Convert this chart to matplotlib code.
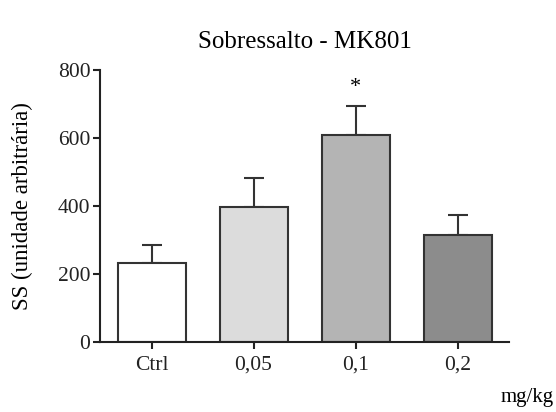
import matplotlib
matplotlib.use("Agg")
import matplotlib.pyplot as plt

# Startle response by MK801 dose
doses = ["Ctrl", "0,05", "0,1", "0,2"]
means = [233, 397, 609, 315]
sem = [53, 86, 84, 58]
colors = ["#ffffff", "#dcdcdc", "#b4b4b4", "#8c8c8c"]
significant = [False, False, True, False]

plt.rcParams["font.family"] = ["Liberation Serif", "DejaVu Serif"]

fig = plt.figure(figsize=(5.56, 4.12), dpi=100)
ax = fig.add_axes([0.18, 0.17, 0.7355, 0.66])

x = range(len(doses))
edge = "#333333"
ax.bar(x, means, width=0.667, color=colors, edgecolor=edge, linewidth=1.5, zorder=2)
ax.errorbar(x, means, yerr=[[0] * len(sem), sem], fmt="none", ecolor=edge,
            elinewidth=1.5, capsize=7, capthick=1.5, zorder=1)

for i, (m, s, sig) in enumerate(zip(means, sem, significant)):
    if sig:
        ax.text(i, m + s + 28, "*", ha="center", va="bottom", fontsize=16)

ax.set_xlim(-0.505, 3.505)
ax.set_ylim(0, 800)
ax.set_yticks([0, 200, 400, 600, 800])
ax.set_xticks(list(x))
ax.set_xticklabels(doses)
ax.tick_params(axis="both", direction="out", length=5, width=1.5, labelsize=15.5, colors="#222222")
ax.tick_params(axis="x", pad=5)
ax.tick_params(axis="y", pad=2)
for side in ("top", "right"):
    ax.spines[side].set_visible(False)
for side in ("left", "bottom"):
    ax.spines[side].set_linewidth(1.5)
    ax.spines[side].set_color("#222222")

ax.set_ylabel("SS (unidade arbitrária)", fontsize=16.5, labelpad=18)
ax.set_title("Sobressalto - MK801", fontsize=18, pad=16)
fig.text(0.948, 0.035, "mg/kg", ha="center", va="center", fontsize=15)

fig.savefig("out.png", dpi=100)
